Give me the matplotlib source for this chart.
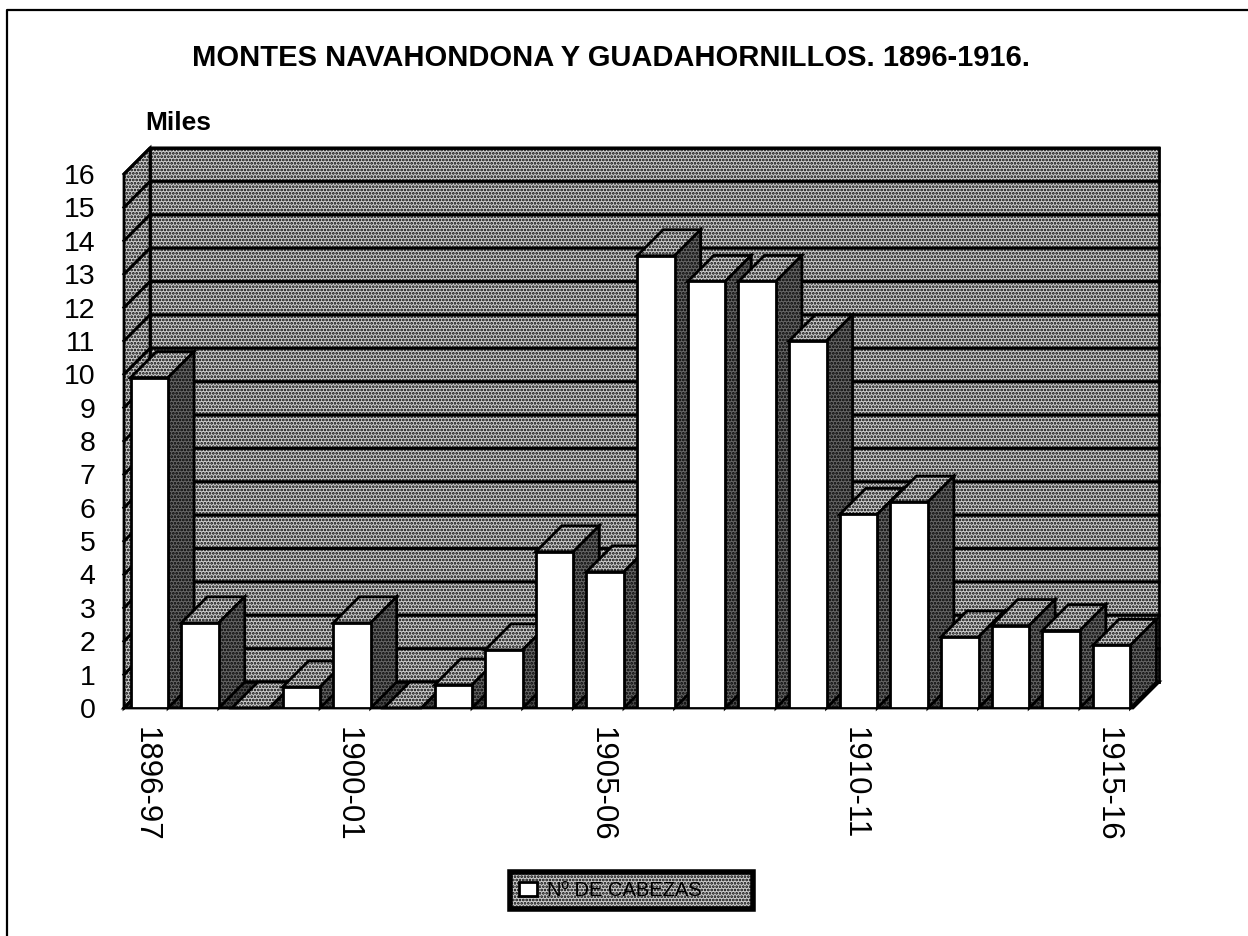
import matplotlib
matplotlib.use("Agg")
import matplotlib.pyplot as plt
from matplotlib.lines import Line2D
from matplotlib.patches import Polygon, Patch
from matplotlib.transforms import ScaledTranslation

plt.rcParams['font.family'] = ['Liberation Sans', 'DejaVu Sans']
plt.rcParams['hatch.linewidth'] = 1.3

# Data (thousands of head per season)
seasons = ["1896-97", "1897-98", "1898-99", "1899-00", "1900-01", "1901-02", "1902-03",
           "1903-04", "1904-05", "1905-06", "1906-07", "1907-08", "1908-09", "1909-10",
           "1910-11", "1911-12", "1912-13", "1913-14", "1914-15", "1915-16"]
cabezas = [9.9, 2.55, 0, 0.63, 2.55, 0, 0.69, 1.74, 4.68, 4.08,
           13.55, 12.78, 12.78, 11.0, 5.8, 6.17, 2.13, 2.47, 2.32, 1.88]
labelled = ["1896-97", "1900-01", "1905-06", "1910-11", "1915-16"]
y_ticks = list(range(0, 17))

W, H = 1248, 936
fig = plt.figure(figsize=(W / 100, H / 100), dpi=100, facecolor="white")
ax = fig.add_axes([124 / W, (H - 708) / H, 1009 / W, 534 / H])
x_min, x_max = -0.5, 19.42
y_min, y_max = 0, 16
ax.set_xlim(x_min, x_max)
ax.set_ylim(y_min, y_max)
ax.set_facecolor("none")
for s in ax.spines.values():
    s.set_visible(False)

# depth of the fake 3d box, 26 px in both directions
dx = 26 * (x_max - x_min) / 1009
dy = 26 * (y_max - y_min) / 534


def face(pts, color, z, hatch="....."):
    p = Polygon(pts, closed=True, facecolor=color, edgecolor="black", hatch=hatch,
                linewidth=2, clip_on=False, zorder=z)
    ax.add_patch(p)


# Walls and floor
face([(x_min + dx, y_min + dy), (x_max + dx, y_min + dy), (x_max + dx, y_max + dy), (x_min + dx, y_max + dy)], "0.8", 1)
face([(x_min, y_min), (x_min + dx, y_min + dy), (x_min + dx, y_max + dy), (x_min, y_max)], "0.8", 1)
face([(x_min, y_min), (x_max, y_min), (x_max + dx, y_min + dy), (x_min + dx, y_min + dy)], "0.3", 1)

# Grid lines, wall and side
for v in y_ticks:
    ax.plot([x_min, x_min + dx, x_max + dx], [v, v + dy, v + dy], color="black", lw=2.2,
            clip_on=False, zorder=2)

# Bars
bar_w = 0.74
for i, v in enumerate(cabezas):
    x0 = i - bar_w / 2
    x1 = i + bar_w / 2
    face([(x0, v), (x1, v), (x1 + dx, v + dy), (x0 + dx, v + dy)], "0.8", 3 + i)
    face([(x1, 0), (x1 + dx, dy), (x1 + dx, v + dy), (x1, v)], "0.4", 3 + i)
    ax.bar(i, v, width=bar_w, color="white", edgecolor="black", linewidth=2, zorder=3 + i + 0.5)

# Axis text
ax.set_yticks(y_ticks)
ax.tick_params(axis="y", length=0, pad=20.5, labelsize=20.5)
ax.set_xticks([seasons.index(s) for s in labelled])
ax.set_xticklabels(labelled, rotation=270, ha="center", va="top", fontsize=22.5)
ax.tick_params(axis="x", length=0, pad=14)
shift = ScaledTranslation(-4 / 100, 0, fig.dpi_scale_trans)
for t in ax.get_xticklabels():
    t.set_transform(t.get_transform() + shift)

fig.text(611 / W, 1 - 58 / H, "MONTES NAVAHONDONA Y GUADAHORNILLOS. 1896-1916.", ha="center",
         va="center", fontsize=21, fontweight="bold")
fig.text(145 / W, 1 - 123 / H, "Miles", ha="left", va="center", fontsize=19, fontweight="bold")

# Legend
handle = Patch(facecolor="white", edgecolor="black", linewidth=2, label="Nº DE CABEZAS")
leg = fig.legend(handles=[handle], loc="center", mode="expand",
                 bbox_to_anchor=(510 / W, 1 - 908 / H, 243 / W, 35 / H), fontsize=14.5,
                 fancybox=False, framealpha=1, edgecolor="black", handlelength=0.9,
                 handleheight=0.7, handletextpad=0.5, borderpad=0.45, borderaxespad=0)
frame = leg.get_frame()
frame.set_facecolor("0.8")
frame.set_hatch(".....")
frame.set_linewidth(4)

# Outer frame, only top and left show in the scan
fig.add_artist(Line2D([6.5 / W, 6.5 / W, 1], [0, 1 - 9.5 / H, 1 - 9.5 / H], transform=fig.transFigure,
                      color="black", linewidth=1.6))

fig.savefig("out.png", dpi=100)
